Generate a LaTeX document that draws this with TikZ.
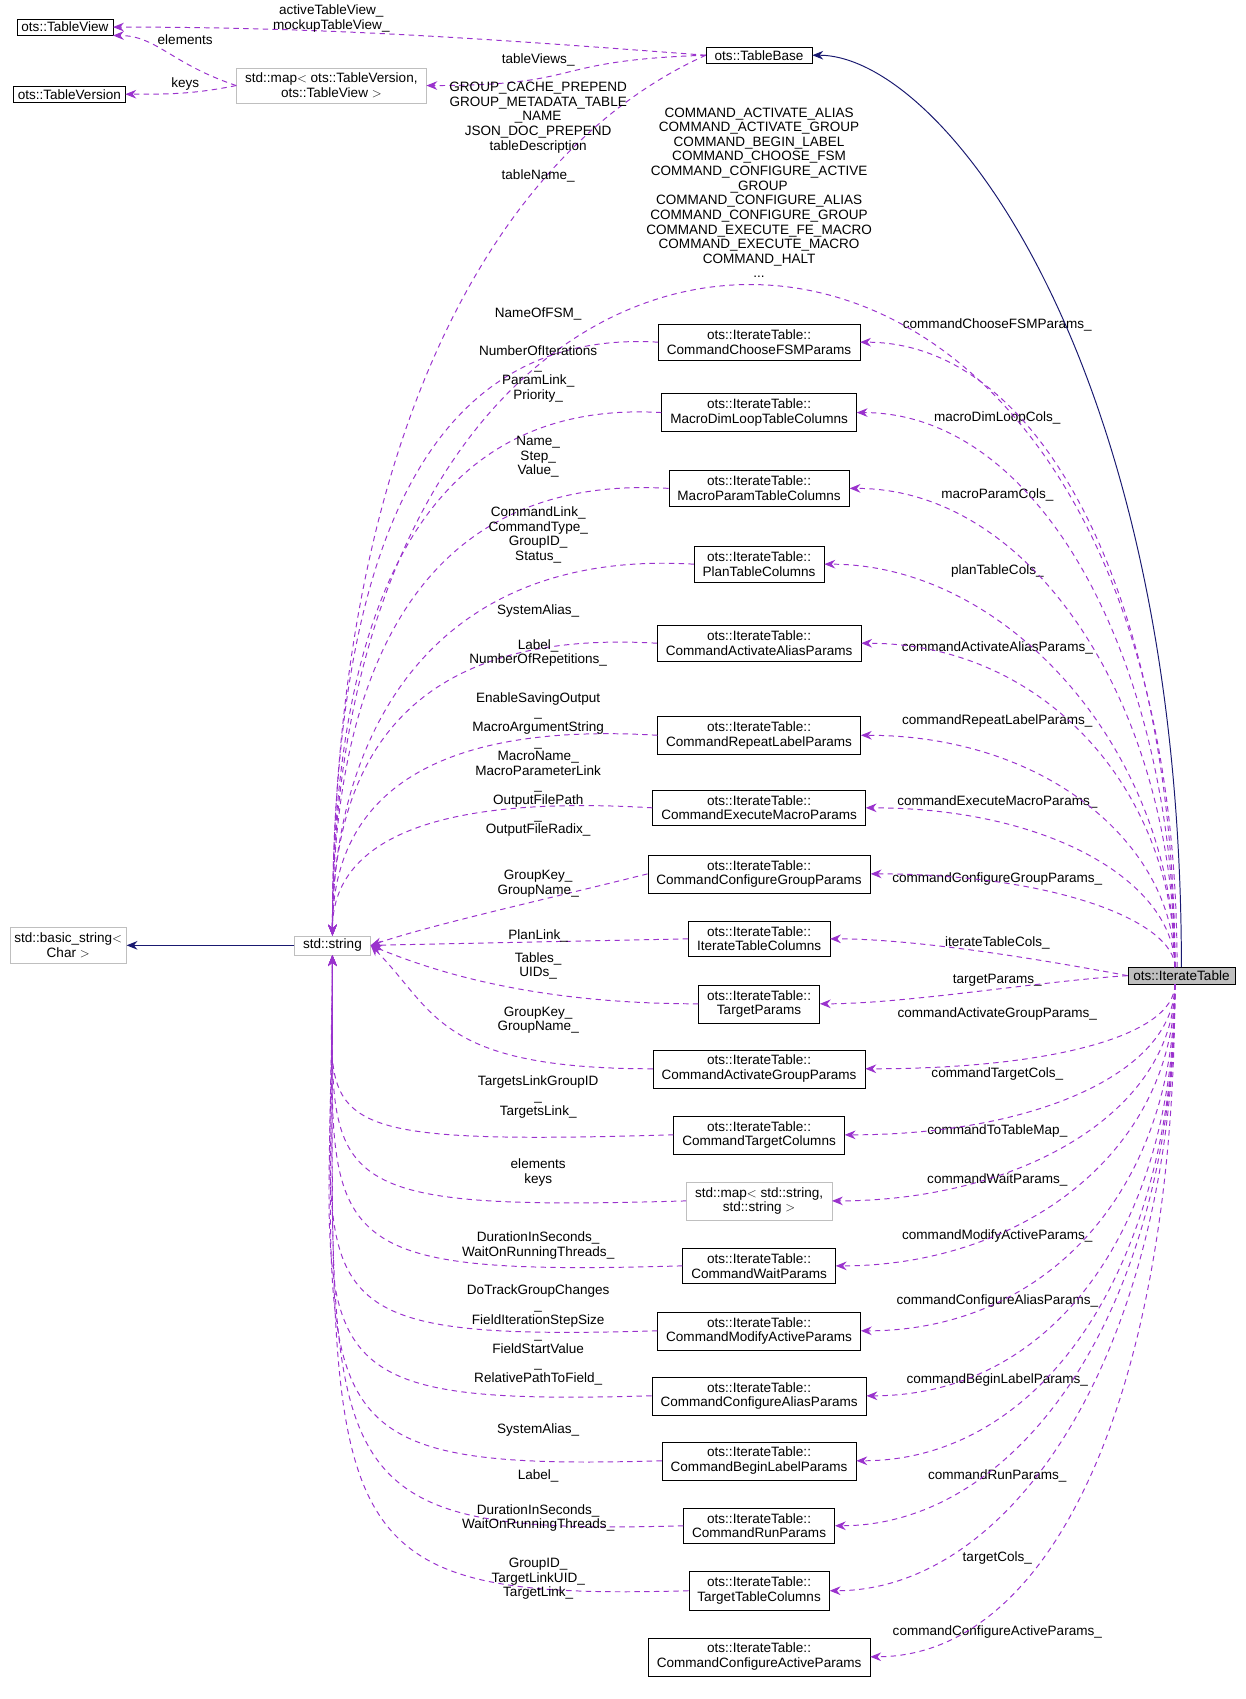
\documentclass[tikz,border=0pt]{standalone}
\usepackage{fontspec}
\setmainfont{Liberation Sans}
\usetikzlibrary{arrows.meta}
\definecolor{edgepurple}{HTML}{9A32CD}
\definecolor{edgenavy}{HTML}{191970}
\definecolor{boxgray}{HTML}{BFBFBF}
\begin{document}
\begin{tikzpicture}[
  x=1pt, y=-1pt,
  every node/.style = {font=\fontsize{12.5}{13.5}\selectfont},
  cls/.style = {draw=black, fill=white, align=center, inner xsep=8pt, inner ysep=5pt},
  ext/.style = {cls, draw=boxgray},
  focus/.style = {cls, fill=boxgray, inner xsep=5pt},
  uses/.style = {draw=edgepurple, dash pattern=on 5pt off 4pt, line width=0.9pt, -{Stealth[length=10pt,width=8pt]}},
  inherits/.style = {draw=edgenavy, line width=0.9pt, -{Stealth[length=10pt,width=8pt]}},
  lbl/.style = {align=center, inner sep=0pt}
  ]
  \useasboundingbox (0,0) rectangle (1150,1569);
  % top classes
  \node[cls, inner xsep=4pt, inner ysep=3pt] (view) at (60,25) {ots::TableView};
  \node[cls, inner xsep=4pt, inner ysep=3pt] (version) at (64,87) {ots::TableVersion};
  \node[ext] (vmap) at (306,79) {std::map$<$ ots::TableVersion,\\ots::TableView $>$};
  \node[cls, inner ysep=3pt] (base) at (701,51) {ots::TableBase};
  \node[ext, inner xsep=4pt] (bstr) at (63,873) {std::basic\_string$<$\\Char $>$};
  \node[ext, inner ysep=3pt] (str) at (307,873) {std::string};
  \node[focus, inner ysep=3pt] (it) at (1091,901) {ots::IterateTable};
  % members of IterateTable
  \foreach \n/\y/\t/\lab/\ly in {
    choose/316/CommandChooseFSMParams/commandChooseFSMParams\_/300,
    dimloop/381/MacroDimLoopTableColumns/macroDimLoopCols\_/386,
    mparam/451/MacroParamTableColumns/macroParamCols\_/457,
    plan/521/PlanTableColumns/planTableCols\_/527,
    actalias/594/CommandActivateAliasParams/commandActivateAliasParams\_/598,
    repeat/679/CommandRepeatLabelParams/commandRepeatLabelParams\_/666,
    exec/746/CommandExecuteMacroParams/commandExecuteMacroParams\_/741,
    cfggroup/807/CommandConfigureGroupParams/commandConfigureGroupParams\_/812,
    itcols/867/IterateTableColumns/iterateTableCols\_/871,
    target/927/TargetParams/targetParams\_/905,
    actgroup/987/CommandActivateGroupParams/commandActivateGroupParams\_/936,
    tgtcols/1048/CommandTargetColumns/commandTargetCols\_/992,
    wait/1169/CommandWaitParams/commandWaitParams\_/1090,
    modify/1229/CommandModifyActiveParams/commandModifyActiveParams\_/1141,
    cfgalias/1289/CommandConfigureAliasParams/commandConfigureAliasParams\_/1201,
    begin/1349/CommandBeginLabelParams/commandBeginLabelParams\_/1274,
    run/1409/CommandRunParams/commandRunParams\_/1363,
    ttcols/1469/TargetTableColumns/targetCols\_/1439,
    cfgactive/1530/CommandConfigureActiveParams/commandConfigureActiveParams\_/1507} {
    \node[cls] (\n) at (701,\y) {ots::IterateTable::\\\t};
    \node[lbl] (l\n) at (921,\ly) {\lab};
  }
  \node[ext] (smap) at (701,1109) {std::map$<$ std::string,\\std::string $>$};
  \node[lbl] (lsmap) at (921,1044) {commandToTableMap\_};
  % inheritance
  \draw[inherits] (str.west) -- (bstr.east);
  \draw[inherits] (it.north) .. controls +(0,-560) and +(120,0) .. (base.east);
  % IterateTable members
  \foreach \n/\dy in {choose/-560,dimloop/-470,mparam/-400,plan/-330,actalias/-270,repeat/-190,exec/-130,cfggroup/-70}
    \draw[uses] ([xshift=-6pt]it.north) .. controls +(0,0.6*\dy) and +(170,0) .. (\n.east);
  \draw[uses] (it.west) .. controls +(-80,-15) and +(80,0) .. (itcols.east);
  \draw[uses] (it.west) .. controls +(-80,5) and +(80,0) .. (target.east);
  \foreach \n/\dy in {actgroup/80,tgtcols/140,smap/200,wait/260,modify/320,cfgalias/380,begin/440,run/500,ttcols/560,cfgactive/620}
    \draw[uses] ([xshift=-6pt]it.south) .. controls +(0,0.6*\dy) and +(170,0) .. (\n.east);
  % TableBase
  \draw[uses] (base.west) .. controls +(-200,-15) and +(200,0) .. (view.east);
  \draw[uses] (base.west) .. controls +(-150,5) and +(150,0) .. (vmap.east);
  \draw[uses] (vmap.west) .. controls +(-60,-20) and +(40,0) .. (view.south east);
  \draw[uses] (vmap.west) .. controls +(-40,8) and +(40,0) .. (version.east);
  \draw[uses] (base.west) .. controls +(-200,90) and +(0,-450) .. (str.north);
  \draw[uses] ([xshift=-4pt]it.north) .. controls +(0,-840) and +(0,-800) .. (str.north);
  % members to std::string
  \foreach \n/\dy in {choose/556,dimloop/491,mparam/421,plan/351,actalias/278,repeat/193,exec/126}
    \draw[uses] (\n.west) .. controls +(-250,-15) and +(0,-0.5*\dy) .. (str.north);
  \draw[uses] (cfggroup.west) .. controls +(-100,25) and +(60,-20) .. (str.east);
  \draw[uses] (itcols.west) -- (str.east);
  \draw[uses] (target.west) .. controls +(-150,0) and +(60,25) .. (str.east);
  \draw[uses] (actgroup.west) .. controls +(-200,0) and +(60,60) .. (str.east);
  \foreach \n/\dy in {tgtcols/175,smap/236,wait/296,modify/356,cfgalias/416,begin/476,run/536,ttcols/596}
    \draw[uses] (\n.west) .. controls +(-350,10) and +(0,0.9*\dy) .. (str.south);
  % labels
  \node[lbl] (lview) at (306,17) {activeTableView\_\\mockupTableView\_};
  \node[lbl] (lel) at (171,37) {elements};
  \node[lbl] (lkeys) at (171,78) {keys};
  \node[lbl] (lviews) at (497,55) {tableViews\_};
  \node[lbl] (lbase) at (497,122) {GROUP\_CACHE\_PREPEND\\GROUP\_METADATA\_TABLE\\\_NAME\\JSON\_DOC\_PREPEND\\tableDescription\\\strut\\tableName\_};
  \node[lbl] (lit) at (701,178) {COMMAND\_ACTIVATE\_ALIAS\\COMMAND\_ACTIVATE\_GROUP\\COMMAND\_BEGIN\_LABEL\\COMMAND\_CHOOSE\_FSM\\COMMAND\_CONFIGURE\_ACTIVE\\\_GROUP\\COMMAND\_CONFIGURE\_ALIAS\\COMMAND\_CONFIGURE\_GROUP\\COMMAND\_EXECUTE\_FE\_MACRO\\COMMAND\_EXECUTE\_MACRO\\COMMAND\_HALT\\...};
  \node[lbl] (s1) at (497,290) {NameOfFSM\_};
  \node[lbl] (s2) at (497,345) {NumberOfIterations\\\_\\ParamLink\_\\Priority\_};
  \node[lbl] (s3) at (497,422) {Name\_\\Step\_\\Value\_};
  \node[lbl] (s4) at (497,494) {CommandLink\_\\CommandType\_\\GroupID\_\\Status\_};
  \node[lbl] (s5) at (497,564) {SystemAlias\_};
  \node[lbl] (s6) at (497,603) {Label\_\\NumberOfRepetitions\_};
  \node[lbl] (s7) at (497,706) {EnableSavingOutput\\\_\\MacroArgumentString\\\_\\MacroName\_\\MacroParameterLink\\\_\\OutputFilePath\\\_\\OutputFileRadix\_};
  \node[lbl] (s8) at (497,816) {GroupKey\_\\GroupName\_};
  \node[lbl] (s9) at (497,864) {PlanLink\_};
  \node[lbl] (s10) at (497,892) {Tables\_\\UIDs\_};
  \node[lbl] (s11) at (497,942) {GroupKey\_\\GroupName\_};
  \node[lbl] (s12) at (497,1013) {TargetsLinkGroupID\\\_\\TargetsLink\_};
  \node[lbl] (s13) at (497,1083) {elements\\keys};
  \node[lbl] (s14) at (497,1150) {DurationInSeconds\_\\WaitOnRunningThreads\_};
  \node[lbl] (s15) at (497,1233) {DoTrackGroupChanges\\\_\\FieldIterationStepSize\\\_\\FieldStartValue\\\_\\RelativePathToField\_};
  \node[lbl] (s16) at (497,1321) {SystemAlias\_};
  \node[lbl] (s17) at (497,1363) {Label\_};
  \node[lbl] (s18) at (497,1402) {DurationInSeconds\_\\WaitOnRunningThreads\_};
  \node[lbl] (s19) at (497,1458) {GroupID\_\\TargetLinkUID\_\\TargetLink\_};
\end{tikzpicture}
\end{document}
